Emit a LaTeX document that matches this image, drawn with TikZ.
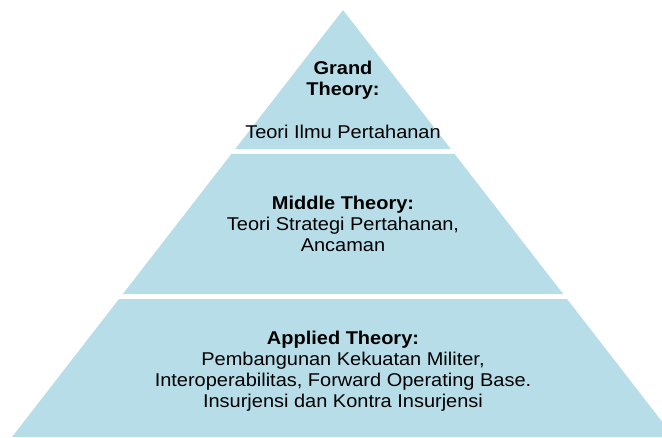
\documentclass[tikz,border=0pt]{standalone}
\usepackage{fontspec}
\setmainfont{Liberation Sans}
\usepackage{tikz}
\usetikzlibrary{calc, positioning}
\definecolor{layerblue}{RGB}{183,221,232}

\tikzset{
    layer/.style={fill=layerblue, draw=none},
    layertext/.style={font=\fontsize{18.5}{21}\selectfont, align=center, xscale=1.08, inner sep=0pt, anchor=base}
}

\begin{document}
\begin{tikzpicture}[x=1pt, y=-1pt] % 1 satuan = 1 piksel

            \useasboundingbox (0,0) rectangle (662,437);
            \clip (0,0) rectangle (662,437);

            % Titik sudut piramida
            \coordinate (apex) at (343,10);
            \coordinate (bl) at (12,437);
            \coordinate (br) at (674,437);

            % Lapisan atas
            \fill[layer] (apex) -- ($(apex)!0.3255!(br)$) -- ($(apex)!0.3255!(bl)$) -- cycle;
            % Lapisan tengah
            \fill[layer] ($(apex)!0.3372!(bl)$) -- ($(apex)!0.3372!(br)$) -- ($(apex)!0.6651!(br)$) -- ($(apex)!0.6651!(bl)$) -- cycle;
            % Lapisan bawah
            \fill[layer] ($(apex)!0.6768!(bl)$) -- ($(apex)!0.6768!(br)$) -- (br) -- (bl) -- cycle;

            % Teks tiap lapisan (base = baris terakhir)
            \node[layertext, font=\bfseries\fontsize{18.5}{21}\selectfont] (grand) at (343,95) {Grand\\Theory:};
            \node[layertext] (grandtext) at (343,138) {Teori Ilmu Pertahanan};
            \node[layertext] (middle) at (343,251) {\textbf{Middle Theory:}\\Teori Strategi Pertahanan,\\Ancaman};
            \node[layertext] (applied) at (343,407) {\textbf{Applied Theory:}\\Pembangunan Kekuatan Militer,\\Interoperabilitas, Forward Operating Base.\\Insurjensi dan Kontra Insurjensi};

\end{tikzpicture}
\end{document}
